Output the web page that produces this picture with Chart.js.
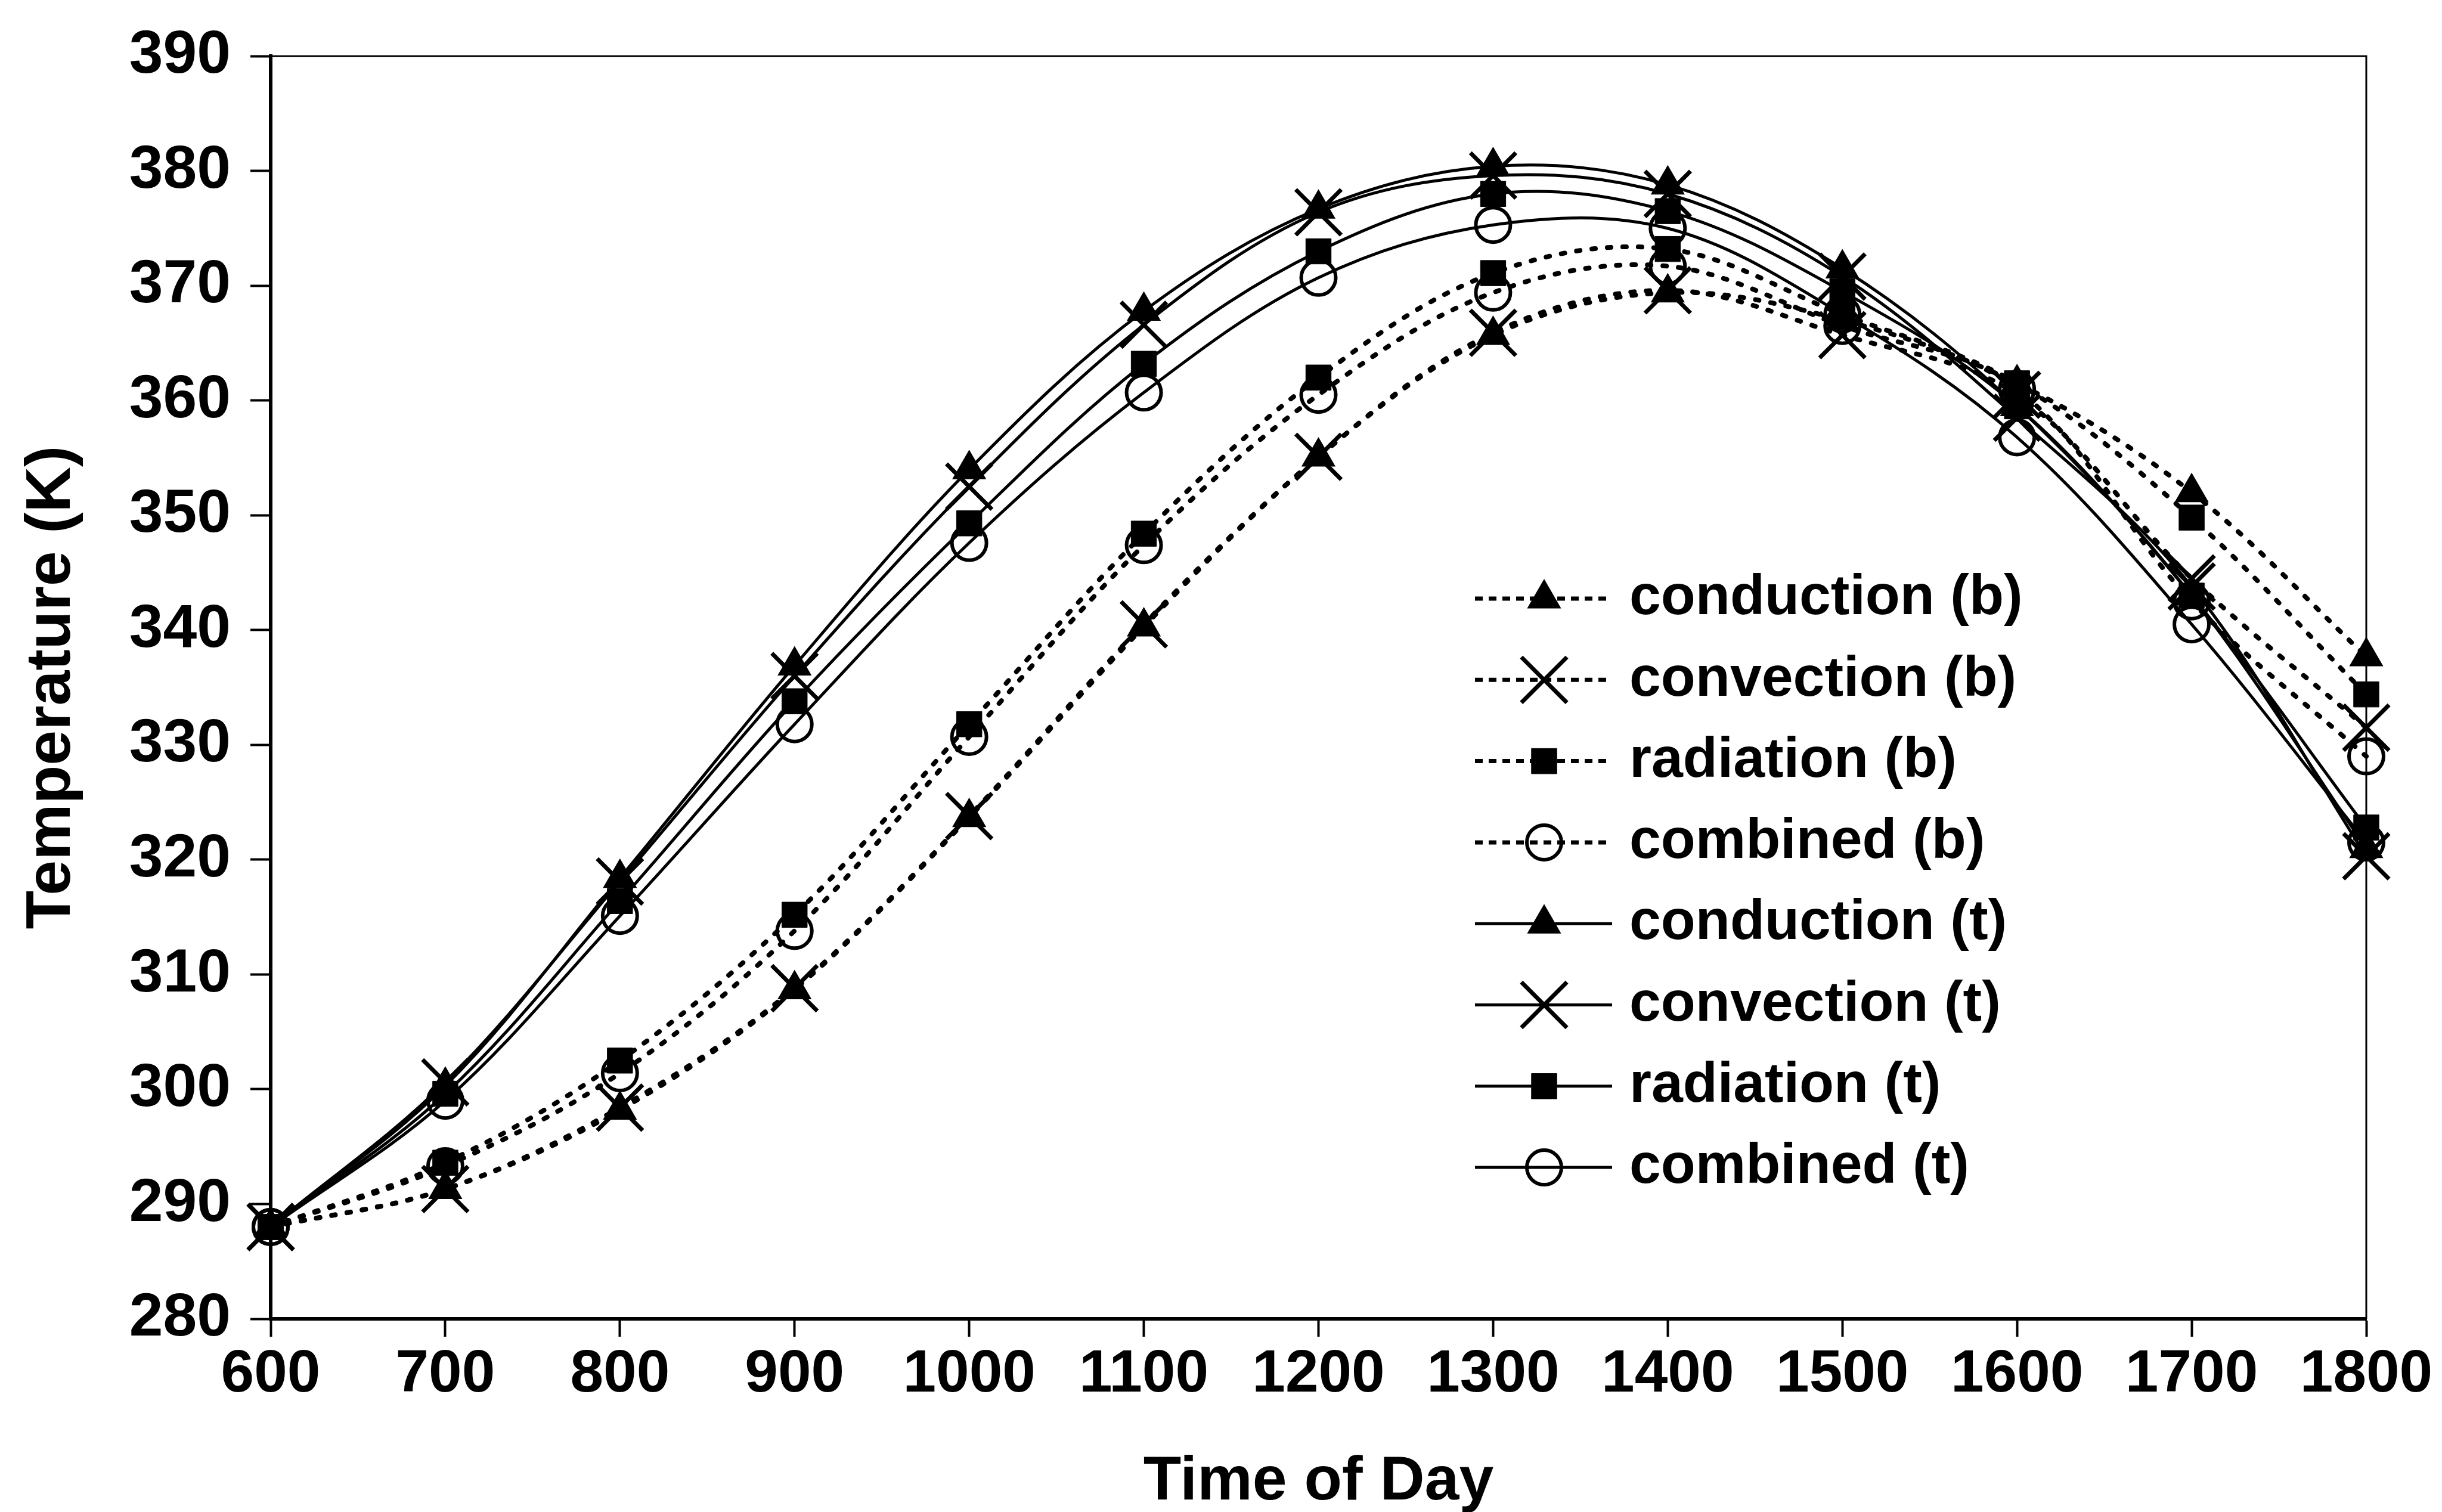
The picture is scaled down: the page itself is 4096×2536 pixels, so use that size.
<!DOCTYPE html>
<html>
<head>
<meta charset="utf-8">
<script src="https://cdn.jsdelivr.net/npm/chart.js@4.4.1/dist/chart.umd.min.js"></script>
<style>
html,body{margin:0;padding:0;background:#fff;}
canvas{display:block;}
</style>
</head>
<body>
<canvas id="c" width="4096" height="2536"></canvas>
<script>
// ---- data ----
const times = [600, 700, 800, 900, 1000, 1100, 1200, 1300, 1400, 1500, 1600, 1700, 1800];

const conductionB = [288, 291.3, 298.2, 308.7, 323.7, 340.3, 355.1, 365.7, 369.4, 367.0, 361.5, 352.0, 337.7];
const convectionB = [288, 291.3, 298.4, 308.8, 323.8, 340.5, 355.1, 365.9, 369.6, 365.7, 360.5, 344.5, 331.5];
const radiationB  = [288, 293.6, 302.5, 315.2, 331.8, 348.4, 362.0, 371.1, 373.2, 367.5, 361.5, 349.8, 334.4];
const combinedB   = [288, 293.3, 301.4, 313.8, 330.7, 347.4, 360.5, 369.4, 371.7, 366.5, 361.0, 342.5, 329.0];
const conductionT = [288, 300.3, 318.4, 336.9, 354.0, 367.8, 376.7, 380.4, 378.8, 371.5, 359.5, 343.0, 321.0];
const convectionT = [288, 300.6, 318.1, 336.0, 352.5, 366.6, 376.4, 379.6, 378.0, 370.8, 358.5, 343.8, 320.3];
const radiationT  = [288, 299.6, 316.4, 333.8, 349.3, 363.2, 373.0, 378.0, 376.5, 369.5, 359.5, 343.0, 322.8];
const combinedT   = [288, 299.0, 315.1, 331.8, 347.6, 360.7, 370.7, 375.3, 375.0, 367.5, 356.8, 340.5, 321.5];

const seriesLabels = ['conduction (b)', 'convection (b)', 'radiation (b)', 'combined (b)',
                      'conduction (t)', 'convection (t)', 'radiation (t)', 'combined (t)'];
const seriesValues = [conductionB, convectionB, radiationB, combinedB,
                      conductionT, convectionT, radiationT, combinedT];

const xTitle = 'Time of Day';
const yTitle = 'Temperature (K)';
const xMin = 600, xMax = 1800, xStep = 100;
const yMin = 280, yMax = 390, yStep = 10;

// ---- styling ----
const FONT = '"Liberation Sans", Arial, Helvetica, sans-serif';
const markerFor = {
  conduction: {pointStyle: 'triangle', pointRadius: 31, pointBorderWidth: 2, pointBackgroundColor: '#000'},
  convection: {pointStyle: 'crossRot', pointRadius: 54, pointBorderWidth: 7, pointBackgroundColor: '#000'},
  radiation:  {pointStyle: 'rect', pointRadius: 30, pointBorderWidth: 1, pointBackgroundColor: '#000'},
  combined:   {pointStyle: 'circle', pointRadius: 29, pointBorderWidth: 6, pointBackgroundColor: 'rgba(0,0,0,0)'}
};

const datasets = seriesLabels.map((label, i) => {
  const kind = label.split(' ')[0];
  const dashed = label.indexOf('(b)') >= 0;
  const m = markerFor[kind];
  return Object.assign({
    label: label,
    data: times.map((t, k) => ({x: t, y: seriesValues[i][k]})),
    borderColor: '#000',
    pointBorderColor: '#000',
    borderWidth: dashed ? 8 : 5,
    borderDash: dashed ? [6, 20] : [],
    borderCapStyle: dashed ? 'round' : 'butt',
    tension: 0.35,
    fill: false,
    clip: false,
    pointHoverRadius: m.pointRadius
  }, m);
});

const CHART_LEFT = 454, CHART_RIGHT = 3969, CHART_TOP = 88, CHART_BOTTOM = 2212;

const framePlugin = {
  id: 'frame',
  afterDatasetsDraw(chart) {
    const a = chart.chartArea, ctx = chart.ctx;
    ctx.save();
    ctx.strokeStyle = '#000';
    ctx.lineWidth = 3;
    ctx.beginPath();
    ctx.moveTo(a.left, a.top);
    ctx.lineTo(a.right, a.top);
    ctx.lineTo(a.right, a.bottom);
    ctx.stroke();
    ctx.restore();
  }
};

const legendPlugin = {
  id: 'customLegend',
  afterDraw(chart) {
    const ctx = chart.ctx;
    const y0 = 1004, dy = 136.3, x0 = 2474, x1 = 2704, xm = 2590, xt = 2733;
    chart.data.datasets.forEach((ds, i) => {
      const y = y0 + i * dy;
      ctx.save();
      ctx.strokeStyle = '#000';
      ctx.lineWidth = ds.borderDash.length ? 7 : 5;
      ctx.lineCap = 'butt';
      ctx.setLineDash(ds.borderDash.length ? [13, 10] : []);
      ctx.beginPath();
      ctx.moveTo(x0, y);
      ctx.lineTo(x1, y);
      ctx.stroke();
      ctx.setLineDash([]);
      ctx.fillStyle = ds.pointBackgroundColor;
      ctx.strokeStyle = '#000';
      ctx.lineWidth = ds.pointBorderWidth;
      Chart.helpers.drawPoint(ctx, {pointStyle: ds.pointStyle, radius: ds.pointRadius, rotation: 0, borderWidth: ds.pointBorderWidth}, xm, y);
      ctx.fillStyle = '#000';
      ctx.font = 'bold 95px ' + FONT;
      ctx.textAlign = 'left';
      ctx.textBaseline = 'middle';
      ctx.fillText(ds.label, xt, y);
      ctx.restore();
    });
  }
};

new Chart(document.getElementById('c'), {
  type: 'line',
  data: {datasets: datasets},
  options: {
    responsive: false,
    animation: false,
    devicePixelRatio: 1,
    layout: {padding: {left: 0, right: 4096 - CHART_RIGHT, top: CHART_TOP, bottom: 0}},
    plugins: {legend: {display: false}, tooltip: {enabled: false}},
    scales: {
      x: {
        type: 'linear',
        min: xMin, max: xMax,
        afterFit(scale) { scale.height = 2536 - CHART_BOTTOM; },
        ticks: {stepSize: xStep, color: '#000', maxRotation: 0, autoSkip: false, padding: 4,
                callback: (v) => String(v),
                font: {family: FONT, size: 100, weight: 'bold'}},
        grid: {display: true, drawOnChartArea: false, drawTicks: true, tickLength: 30, tickWidth: 4, color: '#000'},
        border: {display: true, color: '#000', width: 6},
        title: {display: true, text: xTitle, color: '#000', padding: {top: 0, bottom: 0},
                font: {family: FONT, size: 104, weight: 'bold', lineHeight: 0.95}}
      },
      y: {
        type: 'linear',
        min: yMin, max: yMax,
        afterFit(scale) { scale.width = CHART_LEFT; },
        ticks: {stepSize: yStep, color: '#000', padding: 33,
                callback: (v) => String(v),
                font: {family: FONT, size: 102, weight: 'bold'}},
        grid: {display: true, drawOnChartArea: false, drawTicks: true, tickLength: 34, tickWidth: 4, color: '#000'},
        border: {display: true, color: '#000', width: 6},
        title: {display: true, text: yTitle, color: '#000', padding: {top: 24, bottom: 0},
                font: {family: FONT, size: 106, weight: 'bold', lineHeight: 1.2}}
      }
    }
  },
  plugins: [framePlugin, legendPlugin]
});
</script>
</body>
</html>
